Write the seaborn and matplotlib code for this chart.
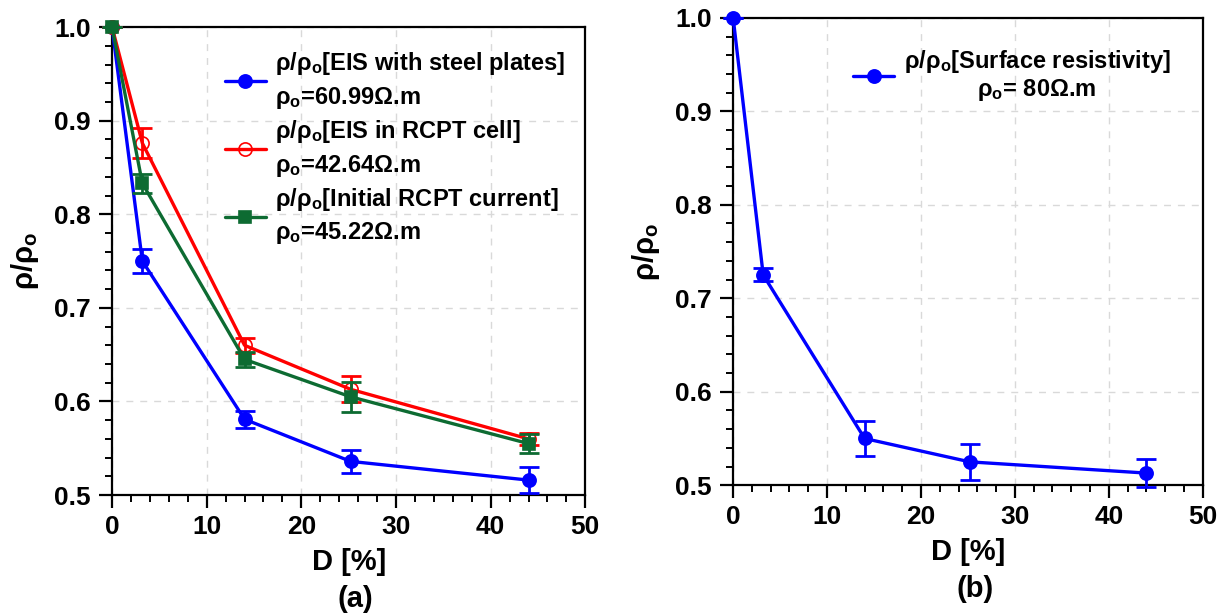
import numpy as np
import pandas as pd
import matplotlib
matplotlib.use("Agg")
import matplotlib.pyplot as plt
import seaborn as sns
from matplotlib.ticker import MultipleLocator, FormatStrFormatter

# ---------------- data ----------------
D = [0, 3.2, 14, 25.2, 44]

steel = [1.0, 0.750, 0.581, 0.536, 0.516]
steel_err = [0.0, 0.013, 0.009, 0.012, 0.014]

rcpt_cell = [1.0, 0.876, 0.660, 0.613, 0.560]
rcpt_cell_err = [0.0, 0.016, 0.008, 0.014, 0.006]

rcpt_cur = [1.0, 0.833, 0.645, 0.605, 0.555]
rcpt_cur_err = [0.0, 0.010, 0.008, 0.016, 0.010]

surface = [1.0, 0.725, 0.550, 0.525, 0.513]
surface_err = [0.0, 0.007, 0.019, 0.019, 0.015]

labels_a = [
    "ρ/ρ$_\\mathrm{o}$[EIS with steel plates]\nρ$_\\mathrm{o}$=60.99Ω.m",
    "ρ/ρ$_\\mathrm{o}$[EIS in RCPT cell]\nρ$_\\mathrm{o}$=42.64Ω.m",
    "ρ/ρ$_\\mathrm{o}$[Initial RCPT current]\nρ$_\\mathrm{o}$=45.22Ω.m",
]
label_b = "ρ/ρ$_\\mathrm{o}$[Surface resistivity]\nρ$_\\mathrm{o}$= 80Ω.m"

# ---------------- style ----------------
sns.set_theme(style="ticks")
plt.rcParams["font.family"] = ["Liberation Sans", "DejaVu Sans"]
plt.rcParams["font.weight"] = "bold"
plt.rcParams["mathtext.fontset"] = "custom"
plt.rcParams["mathtext.rm"] = "Liberation Sans:bold"
plt.rcParams["mathtext.default"] = "rm"
plt.rcParams["text.color"] = "black"
plt.rcParams["axes.labelcolor"] = "black"
plt.rcParams["xtick.color"] = "black"
plt.rcParams["ytick.color"] = "black"

BLUE = "#0000ff"
RED = "#ff0000"
GREEN = "#0d6b32"

fig = plt.figure(figsize=(12.26, 6.15), dpi=100)
axA = fig.add_axes([0.0914, 0.195, 0.386, 0.761])
axB = fig.add_axes([0.598, 0.211, 0.383, 0.760])


def style_axes(ax):
    ax.set_xlim(0, 50)
    ax.set_ylim(0.5, 1.0)
    ax.xaxis.set_major_locator(MultipleLocator(10))
    ax.xaxis.set_minor_locator(MultipleLocator(2))
    ax.yaxis.set_major_locator(MultipleLocator(0.1))
    ax.yaxis.set_minor_locator(MultipleLocator(0.02))
    ax.tick_params(axis="both", which="major", direction="out", length=9.5, width=1.6,
                   labelsize=19, top=False, right=False, colors="black")
    ax.tick_params(axis="x", which="major", pad=5)
    ax.tick_params(axis="y", which="major", pad=6)
    ax.tick_params(axis="both", which="minor", direction="out", length=5, width=1.4,
                   top=False, right=False, colors="black")
    for lab in ax.get_xticklabels() + ax.get_yticklabels():
        lab.set_fontweight("bold")
    ax.yaxis.set_major_formatter(FormatStrFormatter("%.1f"))
    ax.grid(True, which="major", color="#d9d9d9", linestyle=(0, (5, 5)), linewidth=1.0)
    ax.set_axisbelow(True)
    for s in ax.spines.values():
        s.set_visible(True)
        s.set_linewidth(1.6)
        s.set_color("black")
    ax.set_xlabel("D [%]", fontsize=21, fontweight="bold", labelpad=6)
    ax.set_ylabel("ρ/ρ$_\\mathrm{o}$", fontsize=21, fontweight="bold", labelpad=9)


def draw(ax, y, err, color, marker, label, mfc=None):
    df = pd.DataFrame({"D": D, "r": y})
    sns.lineplot(data=df, x="D", y="r", ax=ax, color=color, linewidth=2.4,
                 marker=marker, markersize=9.5 if marker == "o" else 8.5,
                 markerfacecolor=(color if mfc is None else mfc),
                 markeredgecolor=color, markeredgewidth=1.2,
                 label=label, clip_on=False, zorder=3)
    ax.errorbar(D, y, yerr=err, fmt="none", ecolor=color,
                elinewidth=2.0, capsize=7, capthick=2.0, clip_on=False, zorder=3)


draw(axA, steel, steel_err, BLUE, "o", labels_a[0])
draw(axA, rcpt_cell, rcpt_cell_err, RED, "o", labels_a[1], mfc="none")
draw(axA, rcpt_cur, rcpt_cur_err, GREEN, "s", labels_a[2])
style_axes(axA)

draw(axB, surface, surface_err, BLUE, "o", label_b)
style_axes(axB)

legA = axA.legend(loc="upper left", bbox_to_anchor=(0.238, 0.95), frameon=False,
                  prop={"size": 17, "weight": "bold"}, handlelength=1.75,
                  handletextpad=0.4, labelspacing=0.3, borderaxespad=0, borderpad=0)
for t in legA.get_texts():
    t.set_linespacing(1.4)
legB = axB.legend(loc="upper left", bbox_to_anchor=(0.255, 0.935), frameon=False,
                  prop={"size": 17, "weight": "bold"}, handlelength=1.75,
                  handletextpad=0.4, borderaxespad=0, borderpad=0)
for t in legB.get_texts():
    t.set_multialignment("center")
    t.set_linespacing(1.1)

fig.text(0.29, 0.004, "(a)", ha="center", va="bottom", fontsize=21, fontweight="bold")
fig.text(0.795, 0.02, "(b)", ha="center", va="bottom", fontsize=21, fontweight="bold")

fig.savefig("out.png", dpi=100, facecolor="white")
